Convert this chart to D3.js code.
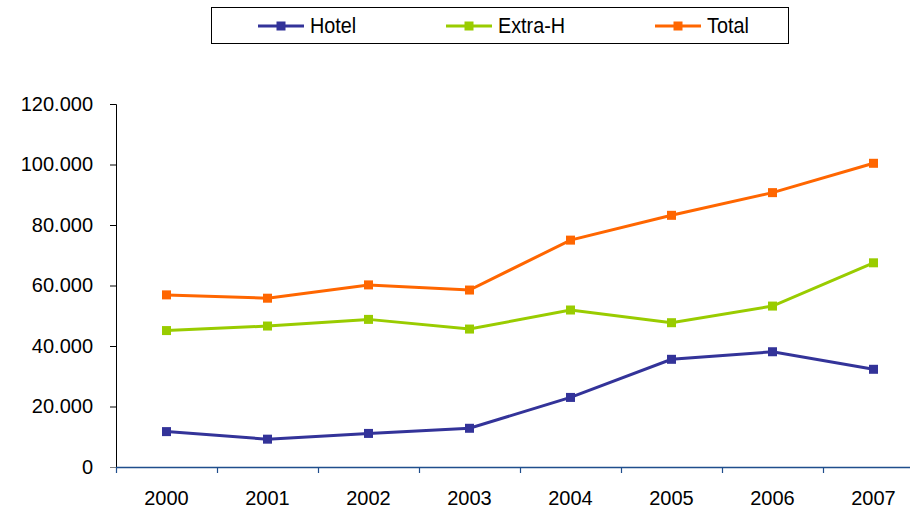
<!DOCTYPE html>
<html><head><meta charset="utf-8">
<script src="https://cdn.jsdelivr.net/npm/d3@7"></script>
<style>body{margin:0;background:#fff;}svg{display:block;font-family:"Liberation Sans",Arial,sans-serif;}</style>
</head><body>
<svg id="c" width="910" height="505"></svg>
<script>
const years = ["2000","2001","2002","2003","2004","2005","2006","2007"];
const hotel  = [11700, 9200, 11100, 12800, 23000, 35600, 38100, 32300];
const extraH = [45100, 46600, 48800, 45600, 51900, 47700, 53200, 67500];
const total  = [56900, 55800, 60200, 58500, 75000, 83200, 90700, 100400];
const seriesNames = ["Hotel","Extra-H","Total"];
const seriesColors = ["#333399","#99CC00","#FF6600"];
const yTicks = [0,20000,40000,60000,80000,100000,120000];

const series = [hotel, extraH, total].map((v,i)=>({name:seriesNames[i], color:seriesColors[i], values:v}));
const svg = d3.select("#c");
const x = d3.scaleBand().domain(years).range([116, 924]);
const y = d3.scaleLinear().domain([0,120000]).range([467, 104]);
const fmt = d => d3.format(",")(d).replace(/,/g,".");

// y axis
const ya = svg.append("g").attr("transform","translate(116,0)")
  .call(d3.axisLeft(y).tickValues(yTicks).tickFormat(fmt).tickSize(6).tickPadding(17));
ya.select(".domain").attr("stroke","#000").attr("d","M-6,104.5H0.5V467");
ya.selectAll(".tick line").attr("stroke","#000");
ya.selectAll(".tick text").attr("font-size","20px").attr("fill","#000").attr("font-family","Liberation Sans, Arial, sans-serif");

// x axis
const xa = svg.append("g").attr("transform","translate(0,467)");
xa.append("line").attr("x1",110).attr("x2",924).attr("y1",0.5).attr("y2",0.5).attr("stroke","#808080").attr("stroke-width",1);
xa.append("line").attr("x1",116).attr("x2",924).attr("y1",0.5).attr("y2",0.5).attr("stroke","#1F4E8C").attr("stroke-width",1.6);
const bounds = years.map(d=>x(d)).concat([x.range()[1]]);
xa.selectAll(".xt").data(bounds).join("line").attr("class","xt")
  .attr("x1",d=>Math.round(d)+0.5).attr("x2",d=>Math.round(d)+0.5).attr("y1",0).attr("y2",6)
  .attr("stroke","#1F4E8C").attr("stroke-width",1.2);
xa.selectAll(".xl").data(years).join("text").attr("class","xl")
  .attr("x",d=>x(d)+x.bandwidth()/2).attr("y",37.5).attr("text-anchor","middle")
  .attr("font-size","20px").attr("fill","#000").text(d=>d);

// lines
const line = d3.line().x((d,i)=>x(years[i])+x.bandwidth()/2).y(d=>y(d));
series.forEach(s=>{
  svg.append("path").attr("d",line(s.values)).attr("fill","none").attr("stroke",s.color).attr("stroke-width",3);
  svg.selectAll(null).data(s.values).join("rect")
    .attr("x",(d,i)=>x(years[i])+x.bandwidth()/2-4.5).attr("y",d=>y(d)-4.5)
    .attr("width",9).attr("height",9).attr("fill",s.color);
});

// legend
const lg = svg.append("g");
lg.append("rect").attr("x",211.5).attr("y",7.5).attr("width",577).attr("height",36).attr("fill","#fff").attr("stroke","#000").attr("stroke-width",1);
const lx = [258, 446, 655];
series.forEach((s,i)=>{
  const g = lg.append("g").attr("transform",`translate(${lx[i]},26)`);
  g.append("line").attr("x1",0).attr("x2",46).attr("y1",0).attr("y2",0).attr("stroke",s.color).attr("stroke-width",3);
  g.append("rect").attr("x",18.5).attr("y",-4.5).attr("width",9).attr("height",9).attr("fill",s.color);
  g.append("text").attr("transform","translate(52,6.5) scale(0.88,1)").attr("font-size","22.5px").attr("fill","#000").text(s.name);
});
</script>
</body></html>
